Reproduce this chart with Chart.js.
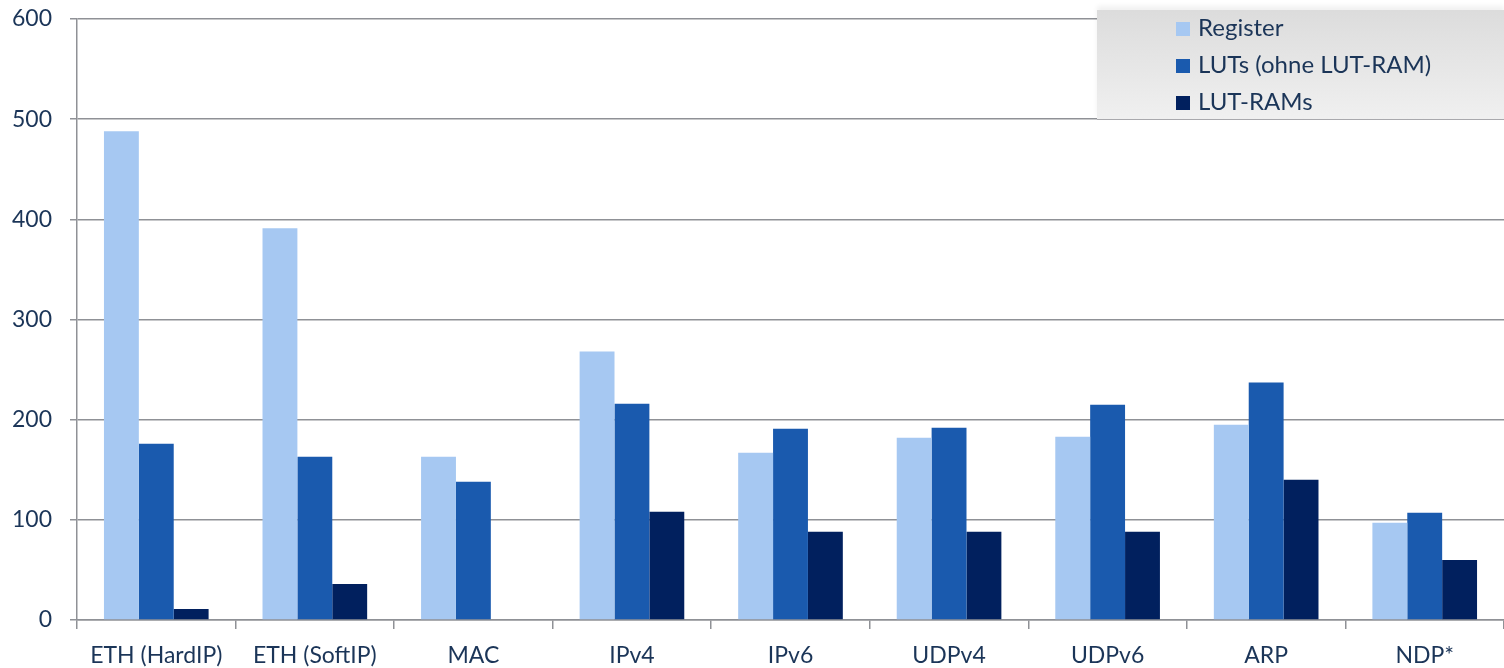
<!DOCTYPE html>
<html>
<head>
<meta charset="utf-8">
<script src="https://cdn.jsdelivr.net/npm/chart.js@4/dist/chart.umd.min.js"></script>
<style>
  html, body { margin: 0; padding: 0; background: #fff; }
  #wrap { position: relative; width: 1504px; height: 668px; }
  #legend {
    position: absolute; left: 1097px; top: 10px; width: 407px; height: 110px;
    background: linear-gradient(to bottom, #dcdcdc 0%, #e6e6e6 50%, #f0f0f0 100%);
    border-bottom: 1.5px solid #a9a9ad;
    box-shadow: 0 -4px 5px rgba(0,0,0,0.06);
    font-family: Lato, sans-serif; font-size: 24px; color: #1b3558;
    box-sizing: border-box; padding: 0 0 0 79px;
  }
  #legend div { height: 37px; line-height: 34px; white-space: nowrap; }
  #legend span.sw { display: inline-block; width: 14px; height: 14px; margin-right: 8px; vertical-align: 0px; }
</style>
</head>
<body>
<div id="wrap">
  <canvas id="chart" width="1504" height="668"></canvas>
  <div id="legend"></div>
</div>
<script>
// Kategorien und Werte
const categories = ['ETH (HardIP)', 'ETH (SoftIP)', 'MAC', 'IPv4', 'IPv6', 'UDPv4', 'UDPv6', 'ARP', 'NDP*'];
const seriesNames = ['Register', 'LUTs (ohne LUT-RAM)', 'LUT-RAMs'];
const register = [488, 391, 163, 268, 167, 182, 183, 195, 97];
const luts = [176, 163, 138, 216, 191, 192, 215, 237, 107];
const lutRams = [11, 36, 0, 108, 88, 88, 88, 140, 60];
const yTicks = [0, 100, 200, 300, 400, 500, 600];

const colors = ['#a6c8f2', '#1a5aae', '#01205e'];
const gridColor = '#8f9196';
const textColor = '#1b3558';

const ctx = document.getElementById('chart').getContext('2d');
const chart = new Chart(ctx, {
    type: 'bar',
    data: {
        labels: categories,
        datasets: [register, luts, lutRams].map((d, i) => ({
            label: seriesNames[i],
            data: d,
            backgroundColor: colors[i],
            borderWidth: 0,
            categoryPercentage: 0.66,
            barPercentage: 1.0
        }))
    },
    options: {
        responsive: false,
        animation: false,
        layout: { padding: { top: 19, right: 0, left: 0, bottom: 0 } },
        plugins: { legend: { display: false }, tooltip: { enabled: false } },
        scales: {
            x: {
                grid: { drawOnChartArea: false, color: gridColor, tickLength: 9, lineWidth: 1.5, offset: true },
                border: { color: gridColor, width: 1.5 },
                ticks: { color: textColor, font: { family: 'Lato', size: 23 }, padding: 13, maxRotation: 0, autoSkip: false },
                afterFit: (s) => { s.height = 48; s.paddingLeft = 0; s.paddingRight = 0; }
            },
            y: {
                min: 0, max: 600,
                afterBuildTicks: (s) => { s.ticks = yTicks.map(v => ({ value: v })); },
                grid: { color: gridColor, tickLength: 7, lineWidth: 1.5 },
                border: { color: gridColor, width: 1.5 },
                ticks: { color: textColor, font: { family: 'Lato', size: 23 }, padding: 18 },
                afterFit: (s) => { s.width = 77; s.paddingTop = 0; s.paddingBottom = 0; }
            }
        }
    }
});

// HTML-Legende aus den Datenreihen
const legend = document.getElementById('legend');
seriesNames.forEach((n, i) => {
    const row = document.createElement('div');
    row.innerHTML = '<span class="sw" style="background:' + colors[i] + '"></span>' + n;
    legend.appendChild(row);
});
</script>
</body>
</html>
